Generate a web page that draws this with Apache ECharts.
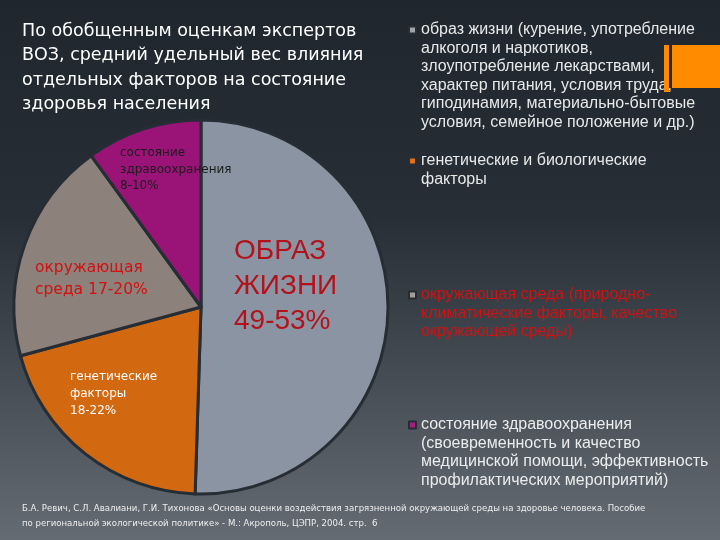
<!DOCTYPE html>
<html>
<head>
<meta charset="utf-8">
<script src="https://cdn.jsdelivr.net/npm/echarts@6/dist/echarts.min.js"></script>
<style>
  html, body { margin: 0; padding: 0; }
  #chart { width: 720px; height: 540px; }
</style>
</head>
<body>
<div id="chart"></div>
<script>
// данные
const categories = ['образ жизни', 'генетические факторы', 'окружающая среда', 'состояние здравоохранения'];
const shares = [50.5, 20.3, 19.2, 10.0];
const sliceLabels = ['ОБРАЗ\nЖИЗНИ\n49-53%', 'генетические\nфакторы\n18-22%', 'окружающая\nсреда 17-20%', 'состояние\nздравоохранения\n8-10%'];
const legendTexts = [
  'образ жизни (курение, употребление\nалкоголя и наркотиков,\nзлоупотребление лекарствами,\nхарактер питания, условия труда,\nгиподинамия, материально-бытовые\nусловия, семейное положение и др.)',
  'генетические и биологические\nфакторы',
  'окружающая среда (природно-\nклиматические факторы, качество\nокружающей среды)',
  'состояние здравоохранения\n(своевременность и качество\nмедицинской помощи, эффективность\nпрофилактических мероприятий)'
];

// оформление
const sliceColors = ['#8b94a3', '#d2680f', '#8c817b', '#9a1477'];
const legendIconColors = ['#9fa4ab', '#e0701a', '#a39e9a', '#a3207e'];
const legendTextColors = ['#e8e8e8', '#e8e8e8', '#d01212', '#ececec'];
const legendLineY = [30, 161, 295, 425];
const legendLH = 18.5;
const labelPos = [[234, 234], [70, 368], [35, 257], [120, 145]];
const labelStyles = [
  {color: '#b3121b', fontSize: 28, lineHeight: 35, fontFamily: 'Liberation Sans'},
  {color: '#ffffff', fontSize: 12, lineHeight: 17, fontFamily: 'DejaVu Sans'},
  {color: '#d41010', fontSize: 15.5, lineHeight: 22, fontFamily: 'DejaVu Sans'},
  {color: '#1c1c1c', fontSize: 12, lineHeight: 16.5, fontFamily: 'DejaVu Sans'}
];

const chart = echarts.init(document.getElementById('chart'));

// одна легенда на каждый пункт; текст центруется по значку,
// поэтому сверху добавляем пустые строки, чтобы значок стоял у первой строки
const legends = categories.map(function (name, i) {
  const n = legendTexts[i].split('\n').length;
  const pad = new Array(n).join('\n');
  return {
    left: 408,
    top: legendLineY[i] - (2 * n - 1) * legendLH / 2,
    padding: 0,
    selectedMode: false,
    icon: 'rect',
    itemWidth: 7,
    itemHeight: 7,
    data: [{name: name, itemStyle: {color: legendIconColors[i]}}],
    formatter: function () { return pad + legendTexts[i]; },
    textStyle: {
      color: legendTextColors[i],
      fontSize: 16,
      fontFamily: 'Liberation Sans',
      lineHeight: legendLH
    }
  };
});

const option = {
  backgroundColor: new echarts.graphic.LinearGradient(0, 0, 0, 1, [
    {offset: 0, color: '#1f262d'},
    {offset: 0.4, color: '#272e35'},
    {offset: 1, color: '#646b72'}
  ]),
  animation: false,
  title: [
    {
      text: 'По обобщенным оценкам экспертов\nВОЗ, средний удельный вес влияния\nотдельных факторов на состояние\nздоровья населения',
      left: 22,
      top: 19,
      padding: 0,
      textStyle: {color: '#ffffff', fontSize: 17.5, fontWeight: 'normal', fontFamily: 'DejaVu Sans', lineHeight: 24.5}
    },
    {
      text: 'Б.А. Ревич, С.Л. Авалиани, Г.И. Тихонова «Основы оценки воздействия загрязненной окружающей среды на здоровье человека. Пособие\nпо региональной экологической политике» - М.: Акрополь, ЦЭПР, 2004. стр.  6',
      left: 22,
      top: 501,
      padding: 0,
      textStyle: {color: '#eeeeee', fontSize: 9.5, fontWeight: 'normal', fontFamily: 'DejaVu Sans Condensed', lineHeight: 15}
    }
  ],
  legend: legends,
  graphic: [
    {type: 'rect', left: 664, top: 45, z: 100, shape: {width: 5, height: 47}, style: {fill: '#ff8c00'}},
    {type: 'rect', left: 672, top: 45, z: 100, shape: {width: 48, height: 43}, style: {fill: '#ff8c00'}}
  ],
  series: [{
    type: 'pie',
    center: [201, 307],
    radius: 187,
    startAngle: 90,
    clockwise: true,
    selectedMode: false,
    emphasis: {disabled: true},
    itemStyle: {borderColor: '#262d34', borderWidth: 3},
    label: {show: true, position: 'inside'},
    labelLine: {show: false},
    labelLayout: function (params) {
      const p = labelPos[params.dataIndex];
      return {x: p[0], y: p[1], align: 'left', verticalAlign: 'top'};
    },
    data: categories.map(function (name, i) {
      return {
        name: name,
        value: shares[i],
        itemStyle: {color: sliceColors[i]},
        label: Object.assign({formatter: sliceLabels[i], align: 'left'}, labelStyles[i])
      };
    })
  }]
};

chart.setOption(option);
</script>
</body>
</html>
